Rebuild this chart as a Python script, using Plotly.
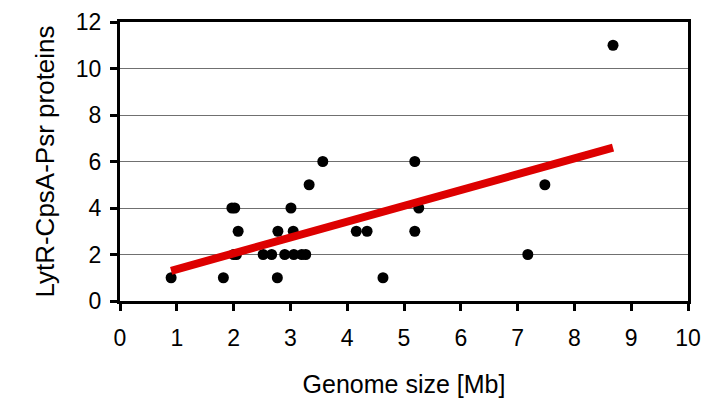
import plotly.graph_objects as go

genome_size = [0.9, 1.82, 1.97, 2.02, 2.08, 2.0, 2.05, 2.52, 2.67, 2.77, 2.78, 2.9,
               3.01, 3.05, 3.06, 3.2, 3.27, 3.33, 3.57, 4.16, 4.35, 4.63, 5.19, 5.19,
               5.26, 7.18, 7.48, 8.68]
proteins = [1, 1, 4, 4, 3, 2, 2, 2, 2, 1, 3, 2,
            4, 3, 2, 2, 2, 5, 6, 3, 3, 1, 6, 3,
            4, 2, 5, 11]
trend_x = [0.9, 8.68]
trend_y = [1.3, 6.6]

x_ticks = [0, 1, 2, 3, 4, 5, 6, 7, 8, 9, 10]
y_ticks = [0, 2, 4, 6, 8, 10, 12]

fam = "Liberation Sans, Arial, sans-serif"
tick_font = dict(family=fam, size=23, color="black")
xt_font = dict(family=fam, size=25, color="black")
yt_font = dict(family=fam, size=26, color="black")

fig = go.Figure()
fig.add_trace(go.Scatter(x=genome_size, y=proteins, mode="markers",
                         marker=dict(color="black", size=11), showlegend=False))
fig.add_trace(go.Scatter(x=trend_x, y=trend_y, mode="lines",
                         line=dict(color="#dd0000", width=8), showlegend=False))

fig.update_layout(
    width=719, height=401,
    margin=dict(l=112, r=39, t=14, b=108),
    paper_bgcolor="white", plot_bgcolor="white",
    font=tick_font,
    xaxis=dict(range=[0, 10], tickvals=x_ticks, ticks="outside", ticklen=7, tickwidth=3,
               tickcolor="black", showline=True, linecolor="black", linewidth=3, mirror=True,
               showgrid=False, zeroline=False, tickfont=tick_font, automargin=False,
               ticklabelstandoff=7, ticklabeloverflow="allow",
               title=dict(text="Genome size [Mb]", font=xt_font, standoff=26)),
    yaxis=dict(range=[0, 12], tickvals=y_ticks, ticks="outside", ticklen=7, tickwidth=3,
               tickcolor="black", showline=True, linecolor="black", linewidth=3, mirror=True,
               showgrid=True, gridcolor="#707070", gridwidth=1, zeroline=False,
               tickfont=tick_font, automargin=False, ticklabelstandoff=4,
               ticklabeloverflow="allow",
               title=dict(text="LytR-CpsA-Psr proteins", font=yt_font, standoff=14)),
)

fig.write_html("out.html")
